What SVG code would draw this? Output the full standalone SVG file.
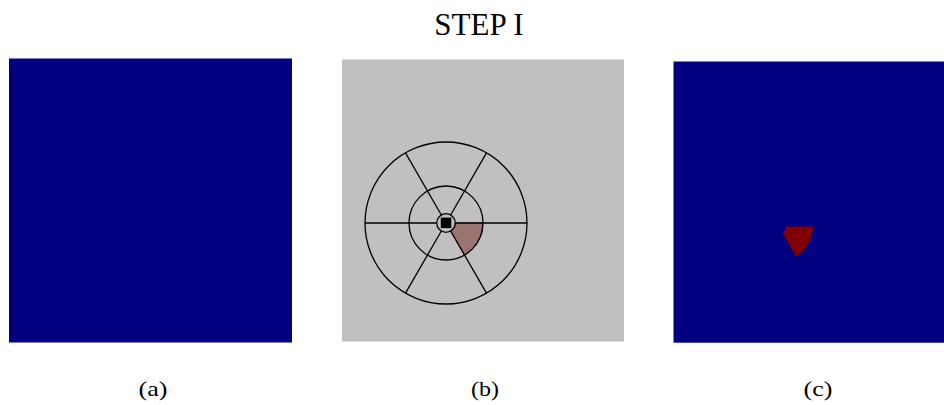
<svg xmlns="http://www.w3.org/2000/svg" width="944" height="405" viewBox="0 0 944 405">
<style>
.lbl{font-family:"Liberation Serif","Times New Roman",serif;fill:#000}
.ln{stroke:#000;stroke-width:1.3;fill:none}
</style>
<rect width="944" height="405" fill="#fff"/>
<text class="lbl" x="479" y="35" font-size="31" text-anchor="middle">STEP I</text>
<g id="panel-a">
<rect x="9" y="58.5" width="283" height="284" fill="#000080"/>
<text class="lbl" x="153" y="396" font-size="21" text-anchor="middle" textLength="29" lengthAdjust="spacingAndGlyphs">(a)</text>
</g>
<g id="panel-b">
<rect x="342" y="59.5" width="282" height="282" fill="#c0c0c0"/>
<path d="M455.3,223 L483,223 A37,37 0 0 1 464.5,255.04 L450.65,231.05 A9.3,9.3 0 0 0 455.3,223 Z" fill="#9a7470" stroke="#5a1a1a" stroke-width="0.8"/>
<circle class="ln" cx="446" cy="223" r="81"/>
<circle class="ln" cx="446" cy="223" r="37"/>
<circle class="ln" cx="446" cy="223" r="9.3"/>
<rect x="440.8" y="217.6" width="10.5" height="10.5" fill="#000"/>
<g class="ln">
<line x1="455.3" y1="223" x2="527" y2="223"/>
<line x1="436.7" y1="223" x2="365" y2="223"/>
<line x1="450.65" y1="231.05" x2="486.5" y2="293.15"/>
<line x1="441.35" y1="231.05" x2="405.5" y2="293.15"/>
<line x1="441.35" y1="214.95" x2="405.5" y2="152.85"/>
<line x1="450.65" y1="214.95" x2="486.5" y2="152.85"/>
</g>
<text class="lbl" x="485" y="396" font-size="21" text-anchor="middle" textLength="28" lengthAdjust="spacingAndGlyphs">(b)</text>
</g>
<g id="panel-c">
<rect x="673.5" y="61.5" width="270.5" height="281.2" fill="#000080"/>
<path d="M785,226.5 L813.3,226.5 Q812,245 796,256.7 L782.5,232.5 L785.5,230 Z" fill="#800000"/>
<text class="lbl" x="818" y="395.5" font-size="21" text-anchor="middle" textLength="29" lengthAdjust="spacingAndGlyphs">(c)</text>
</g>
</svg>
